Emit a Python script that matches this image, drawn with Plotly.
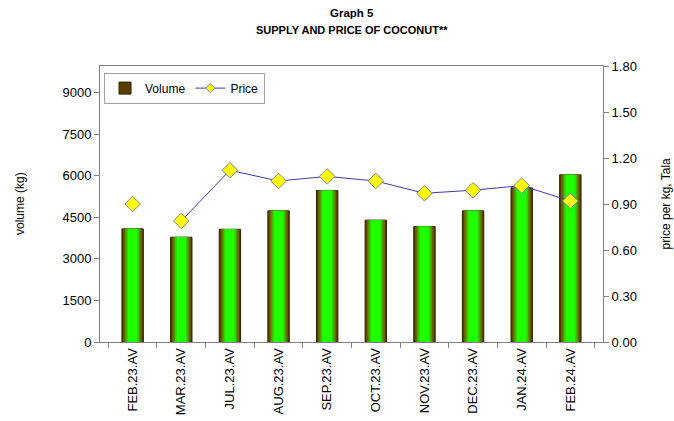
import plotly.graph_objects as go

categories = ["FEB.23.AV", "MAR.23.AV", "JUL.23.AV", "AUG.23.AV", "SEP.23.AV",
              "OCT.23.AV", "NOV.23.AV", "DEC.23.AV", "JAN.24.AV", "FEB.24.AV"]
volume = [4085, 3785, 4070, 4735, 5470, 4400, 4170, 4735, 5565, 6035]
price = [0.90, 0.79, 1.12, 1.05, 1.08, 1.05, 0.97, 0.99, 1.02, 0.92]

left_ticks = [0, 1500, 3000, 4500, 6000, 7500, 9000]
right_ticks = [0.0, 0.3, 0.6, 0.9, 1.2, 1.5, 1.8]

title_lines = ["Graph 5", "SUPPLY AND PRICE OF COCONUT**"]

FONT = "Liberation Sans, Arial, sans-serif"

fig = go.Figure()

# simulated horizontal gradient for bars: outer (dark) to inner (bright green)
layers = [
    (0.44, "#5a3d00", dict(color="#2b2200", width=1)),
    (0.375, "#6a6400", dict(width=0)),
    (0.31, "#4f9c00", dict(width=0)),
    (0.25, "#30d400", dict(width=0)),
    (0.19, "#1eff00", dict(width=0)),
]
for i, (w, c, ln) in enumerate(layers):
    fig.add_trace(go.Bar(
        x=categories, y=volume, width=w, name="Volume",
        marker=dict(color=c, line=ln),
        showlegend=(i == 0), legendrank=1, hoverinfo="skip",
    ))

diamond = dict(symbol="diamond", size=12, color="#ffff00",
               line=dict(color="#8080b0", width=1))
line_style = dict(color="#3c3ca8", width=1)

# Price: line from MAR onward, isolated FEB.23 marker
fig.add_trace(go.Scatter(
    x=categories[1:], y=price[1:], name="Price", mode="lines+markers",
    yaxis="y2", line=line_style, marker=diamond, showlegend=False,
    hoverinfo="skip",
))
fig.add_trace(go.Scatter(
    x=categories[:1], y=price[:1], name="Price", mode="markers",
    yaxis="y2", showlegend=False, marker=diamond, hoverinfo="skip",
))
# legend entry with a smaller marker (no data drawn)
fig.add_trace(go.Scatter(
    x=[None], y=[None], name="Price", mode="lines+markers", yaxis="y2",
    line=line_style,
    marker=dict(symbol="diamond", size=7, color="#ffff00",
                line=dict(color="#8080b0", width=1)),
    legendrank=2, hoverinfo="skip",
))

fig.update_layout(
    template="none",
    width=674, height=421,
    margin=dict(l=100, r=71, t=66, b=79, autoexpand=False),
    paper_bgcolor="white", plot_bgcolor="white",
    barmode="overlay",
    font=dict(family=FONT, size=12, color="#000000"),
    xaxis=dict(
        type="category", tickangle=-90, tickson="boundaries",
        ticks="outside", ticklen=5, tickcolor="#808080",
        showline=True, linecolor="#808080", linewidth=1, mirror=True,
        showgrid=False, automargin=False, zeroline=False,
        tickfont=dict(size=13),
    ),
    yaxis=dict(
        range=[0, 9965], tickvals=left_ticks,
        ticktext=[str(v) for v in left_ticks],
        ticks="outside", ticklen=5, tickcolor="#808080",
        showline=True, linecolor="#808080", linewidth=1,
        showgrid=False, zeroline=False, automargin=False,
        tickfont=dict(size=13),
    ),
    yaxis2=dict(
        overlaying="y", side="right", range=[0, 1.8],
        tickvals=right_ticks, ticktext=[f"{v:.2f}" for v in right_ticks],
        ticks="outside", ticklen=5, tickcolor="#808080",
        showline=True, linecolor="#808080", linewidth=1,
        showgrid=False, zeroline=False, automargin=False,
        tickfont=dict(size=13),
    ),
    legend=dict(
        orientation="h", x=0.008, y=0.976, xanchor="left", yanchor="top",
        bgcolor="white", bordercolor="#a0a0a0", borderwidth=1,
        font=dict(size=12), itemwidth=30, tracegroupgap=0,
    ),
    annotations=[
        dict(text="<b>" + title_lines[0] + "</b>", xref="paper", yref="paper",
             x=0.5, y=1.192, yanchor="middle", showarrow=False,
             font=dict(size=11.5)),
        dict(text="<b>" + title_lines[1] + "</b>", xref="paper", yref="paper",
             x=0.5, y=1.130, yanchor="middle", showarrow=False,
             font=dict(size=11)),
        dict(text="volume (kg)", xref="paper", yref="paper",
             x=-0.159, y=0.5, xanchor="center", yanchor="middle",
             textangle=-90, showarrow=False, font=dict(size=12)),
        dict(text="price per kg, Tala", xref="paper", yref="paper",
             x=1.126, y=0.5, xanchor="center", yanchor="middle",
             textangle=-90, showarrow=False, font=dict(size=12)),
    ],
)

fig.write_html("out.html", config={"displayModeBar": False},
               post_script="document.body.style.margin='0';")
